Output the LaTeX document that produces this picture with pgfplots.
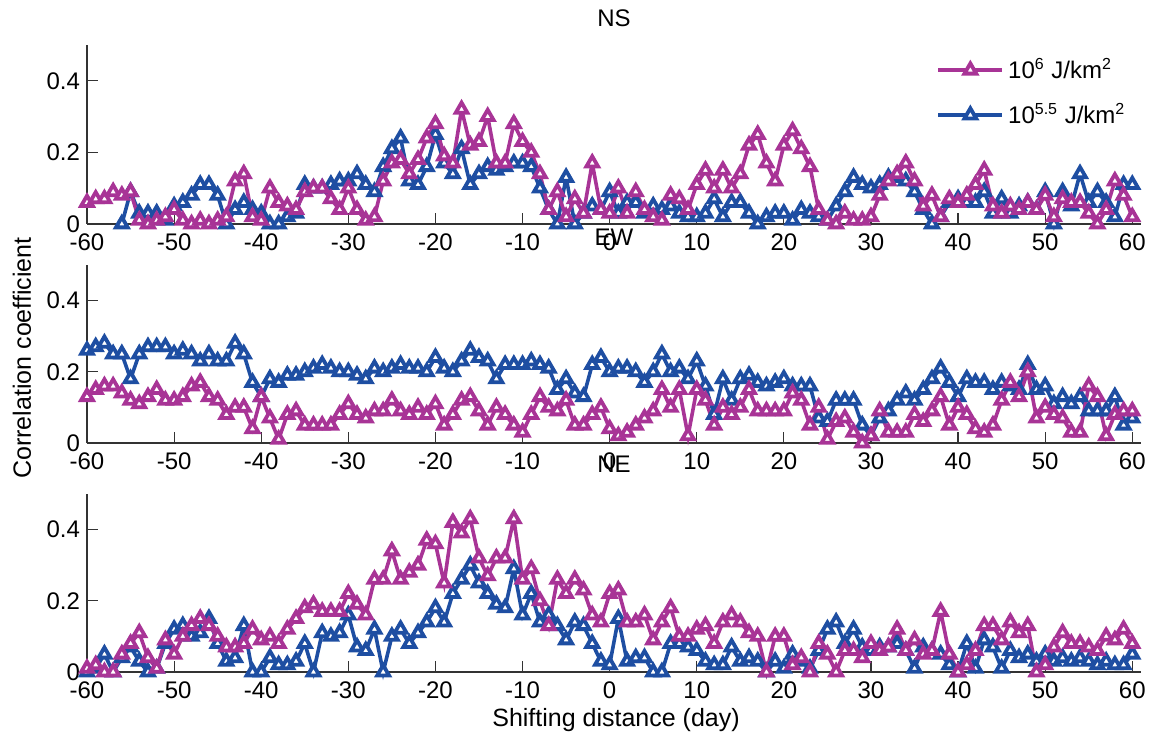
\documentclass[border=0pt]{standalone}
\usepackage{fontspec}
\setmainfont{Liberation Sans}
\usepackage{pgfplots}
\usepackage{pgfplotstable}
\pgfplotsset{compat=1.18}
\definecolor{magc}{RGB}{168,52,150}
\definecolor{bluc}{RGB}{30,78,162}
\pgfplotstableread{
d m1 b1 m2 b2 m3 b3
-60 .06 nan .13 .26 .01 .00
-59 .07 nan .15 .27 .02 .01
-58 .07 nan .16 .28 .00 .05
-57 .09 nan .16 .25 .00 .00
-56 .08 .00 .14 .25 .05 .04
-55 .09 .09 .12 .18 .08 .07
-54 .01 .03 .11 .25 .11 .03
-53 .00 .03 .13 .27 .04 .00
-52 .01 .03 .15 .27 .01 .01
-51 .02 .01 .12 .27 .09 .08
-50 .04 .05 .12 .25 .05 .12
-49 .01 .06 .13 .26 .10 .13
-48 .00 .08 .16 .25 .13 .10
-47 .01 .11 .17 .23 .15 .11
-46 .00 .11 .13 .25 .13 .15
-45 .01 .08 .12 .23 .10 .08
-44 .02 .00 .08 .23 .07 .03
-43 .12 .04 .10 .28 .07 .04
-42 .14 .06 .10 .25 .08 .13
-41 .02 .04 .04 .17 .12 .00
-40 .01 .03 .13 .13 .09 .00
-39 .10 .00 .07 .18 .10 .04
-38 .06 .00 .01 .17 .08 .02
-37 .05 .02 .08 .19 .12 .02
-36 .04 .03 .09 .19 .15 .03
-35 .09 .11 .05 .20 .18 .08
-34 .10 .10 .05 .21 .19 .00
-33 .10 .10 .05 .22 .17 .11
-32 .07 .11 .05 .21 .17 .10
-31 .04 .12 .08 .20 .17 .11
-30 .10 .12 .11 .20 .22 .16
-29 .04 .14 .08 .19 .19 .07
-28 .01 .11 .07 .18 .16 .06
-27 .02 .09 .09 .21 .26 .12
-26 .12 .16 .09 .20 .26 .00
-25 .17 .21 .12 .21 .34 .10
-24 .18 .24 .09 .22 .26 .12
-23 .14 .12 .08 .21 .28 .08
-22 .18 .11 .10 .21 .30 .11
-21 .24 .16 .08 .20 .37 .14
-20 .28 .25 .11 .24 .36 .18
-19 .19 .17 .05 .21 .25 .14
-18 .17 .14 .08 .20 .42 .22
-17 .32 .21 .12 .23 .39 .26
-16 .22 .11 .13 .26 .43 .30
-15 .23 .14 .09 .24 .32 .25
-14 .30 .16 .05 .23 .27 .22
-13 .17 .15 .10 .18 .32 .19
-12 .17 .16 .08 .22 .32 .18
-11 .28 .17 .05 .22 .43 .29
-10 .23 .17 .03 .22 .26 .16
-9 .20 .16 .08 .23 .29 .22
-8 .14 .10 .13 .22 .20 .14
-7 .04 .04 .10 .21 .13 .16
-6 .09 .00 .09 .15 .26 .13
-5 .02 .13 .12 .18 .22 .09
-4 .07 .00 .05 .14 .26 .14
-3 .03 .03 .05 .13 .23 .13
-2 .17 .05 .08 .22 .16 .08
-1 .04 .04 .10 .24 .14 .03
0 .03 .09 .04 .20 .22 .02
1 .10 .03 .02 .21 .23 .15
2 .03 .06 .03 .21 .14 .03
3 .09 .06 .05 .20 .14 .04
4 .04 .03 .07 .17 .16 .04
5 .02 .05 .09 .20 .09 .00
6 .01 .04 .15 .25 .14 .00
7 .08 .05 .10 .20 .18 .08
8 .07 .03 .15 .21 .10 .08
9 .04 .02 .02 .18 .10 .07
10 .11 .02 .15 .23 .12 .06
11 .15 .03 .12 .16 .13 .03
12 .10 .07 .05 .08 .08 .02
13 .15 .02 .10 .18 .14 .02
14 .10 .06 .08 .12 .16 .07
15 .14 .06 .10 .18 .14 .03
16 .22 .03 .15 .19 .11 .04
17 .25 .00 .09 .17 .10 .03
18 .17 .02 .09 .16 .00 .00
19 .12 .03 .09 .17 .10 .03
20 .22 .03 .09 .18 .10 .01
21 .26 .01 .14 .16 .02 .05
22 .21 .04 .12 .16 .04 .03
23 .16 .03 .05 .16 .00 .01
24 .04 .02 .10 .07 .08 .06
25 .01 .01 .01 .06 .05 .12
26 .00 .05 .06 .12 .00 .14
27 .03 .09 .07 .12 .06 .08
28 .01 .13 .03 .12 .06 .12
29 .01 .11 .00 .05 .04 .07
30 .02 .10 .02 .02 .08 .06
31 .08 .11 .09 .07 .06 .07
32 .12 .13 .03 .09 .07 .07
33 .14 .13 .03 .12 .12 .08
34 .17 .12 .03 .14 .06 .06
35 .12 .09 .08 .12 .09 .01
36 .05 .04 .06 .15 .05 .07
37 .08 .00 .09 .18 .06 .06
38 .02 .02 .13 .21 .17 .05
39 .07 .06 .05 .17 .05 .02
40 .06 .07 .10 .13 .00 .00
41 .08 .06 .08 .18 .02 .08
42 .11 .06 .04 .17 .06 .01
43 .15 .09 .03 .17 .13 .09
44 .05 .03 .05 .15 .13 .07
45 .03 .07 .12 .17 .09 .01
46 .05 .03 .17 .16 .14 .06
47 .04 .05 .13 .15 .11 .04
48 .06 .06 .20 .22 .13 .05
49 .04 .04 .07 .15 .00 .03
50 .08 .09 .10 .16 .02 .05
51 .02 .00 .08 .11 .07 .03
52 .07 .09 .07 .13 .11 .04
53 .06 .05 .03 .11 .08 .03
54 .06 .14 .03 .13 .08 .04
55 .03 .06 .16 .09 .07 .03
56 .00 .09 .13 .09 .06 .02
57 .04 .06 .02 .09 .10 .03
58 .12 .02 .08 .13 .09 .02
59 .08 .11 .09 .05 .12 .02
60 .02 .11 .09 .07 .08 .05
}\data
\pgfplotsset{
  panel/.style={
    width=527pt, height=89.5pt, scale only axis, anchor=south west,
    xmin=-60, xmax=61, ymin=0, ymax=0.5,
    axis x line=bottom, axis y line=left,
    axis line style={-, line width=0.7pt, draw=black!80},
    xtick={-60,-50,...,60}, ytick={0,0.2,0.4},
    tick align=inside, major tick length=5.5pt,
    tick style={line width=0.6pt, draw=black!80},
    tick label style={font=\fontsize{12}{14}\selectfont},
    xticklabel style={yshift=-1.5pt},
    /pgf/number format/assume math mode=true,
    clip=false, unbounded coords=jump,
    title style={at={(0.5,1)}, anchor=center, font=\fontsize{12}{14}\selectfont},
    legend image code/.code={\draw[mark repeat=2,mark phase=2,##1] plot coordinates {(0pt,0pt) (16pt,0pt) (32pt,0pt)};},
  },
  mag/.style={color=magc, line width=1.8pt, mark=triangle*, mark size=3.4pt, mark options={fill=white, line width=1.9pt, solid}},
  blu/.style={color=bluc, line width=1.8pt, mark=triangle*, mark size=3.4pt, mark options={fill=white, line width=1.9pt, solid}},
}
\begin{document}
\begin{tikzpicture}
\path[use as bounding box] (0,0) rectangle (580.5pt,370pt);
\begin{axis}[panel, at={(43.5pt,258pt)}, title={NS}, title style={yshift=7.5pt},
  legend style={draw=none, fill=none, at={(0.995,0.97)}, anchor=north east, font=\fontsize{12}{14}\selectfont, row sep=7pt},
  legend cell align=left, reverse legend]
\addplot[blu] table[x=d,y=b1]{\data};
\addlegendentry{10\textsuperscript{5.5} J/km\textsuperscript{2}}
\addplot[mag] table[x=d,y=m1]{\data};
\addlegendentry{10\textsuperscript{6} J/km\textsuperscript{2}}
\end{axis}
\begin{axis}[panel, at={(43.5pt,148.5pt)}, height=89pt, title={EW}, title style={yshift=8pt}]
\addplot[blu] table[x=d,y=b2]{\data};
\addplot[mag] table[x=d,y=m2]{\data};
\end{axis}
\begin{axis}[panel, at={(43.5pt,34pt)}, height=89pt, title={NE}, title style={yshift=9pt}]
\addplot[blu] table[x=d,y=b3]{\data};
\addplot[mag] table[x=d,y=m3]{\data};
\end{axis}
\node[rotate=90, font=\fontsize{12.5}{14}\selectfont] at (11pt,191pt) {Correlation coefficient};
\node[font=\fontsize{12.5}{14}\selectfont] at (308pt,10pt) {Shifting distance (day)};
\end{tikzpicture}
\end{document}
